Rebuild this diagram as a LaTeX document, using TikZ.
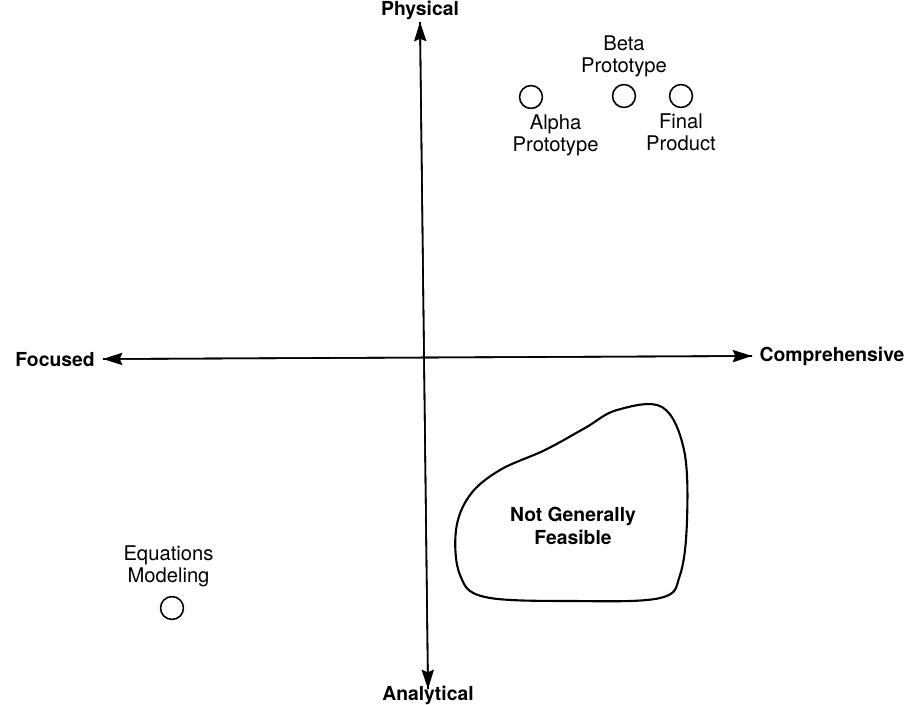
\documentclass[tikz,border=0pt]{standalone}
\usepackage{fontspec}
\setmainfont{TeX Gyre Heros}
\usetikzlibrary{arrows.meta,positioning}
\tikzset{
  axis/.style={line width=0.9pt, -{Stealth[length=11pt,width=7pt,inset=1.5pt]}},
  axlabel/.style={font=\fontsize{11}{13}\selectfont\bfseries, inner sep=1pt},
  item/.style={font=\fontsize{11.5}{12.5}\selectfont, align=center, inner sep=1pt},
  proto/.style={circle, draw, line width=0.9pt, minimum size=13pt, inner sep=0pt}
}
\begin{document}
\begin{tikzpicture}[x=0.02cm, y=-0.02cm]
  \useasboundingbox (0,0) rectangle (912,704);
  % Axis labels
  \node[axlabel] (phys) at (420,10) {Physical};
  \node[axlabel] (anal) at (428,695) {Analytical};
  \node[axlabel] (foc) at (55,360) {Focused};
  \node[axlabel] (comp) at (832,356) {Comprehensive};
  % Axes
  \coordinate (top) at (420,22);
  \coordinate (bot) at (428,689);
  \coordinate (lft) at (103,359);
  \coordinate (rgt) at (752,356);
  \draw[axis] (bot) -- (top);
  \draw[axis] (top) -- (bot);
  \draw[axis] (rgt) -- (lft);
  \draw[axis] (lft) -- (rgt);
  % Prototypes
  \node[proto] (alpha) at (531,97) {};
  \node[proto] (beta) at (624,96) {};
  \node[proto] (final) at (681,96) {};
  \node[item, below=2pt of alpha, xshift=14pt] (alphaL) {Alpha\\Prototype};
  \node[item, above=3pt of beta] (betaL) {Beta\\Prototype};
  \node[item, below=2pt of final] (finalL) {Final\\Product};
  % Equations modeling
  \node[proto] (eqn) at (172,608) {};
  \node[item, above=4pt of eqn, xshift=-2pt] (eqnL) {Equations\\Modeling};
  % Not generally feasible region
  \draw[line width=1.2pt] plot[smooth cycle, tension=0.6] coordinates {
    (662,407) (684,450) (687,520) (680,575) (660,598) (573,601)
    (485,597) (460,575) (456,530) (470,495) (500,470) (545,450) (585,428) (617,410)};
  \node[axlabel, align=center] (nogo) at (573,526) {Not Generally\\Feasible};
\end{tikzpicture}
\end{document}
